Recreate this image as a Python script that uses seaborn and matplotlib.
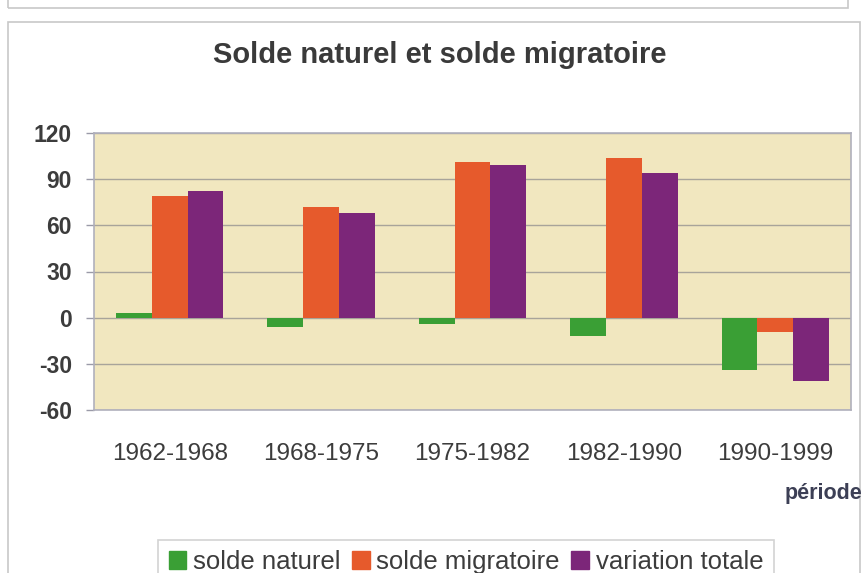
import matplotlib
matplotlib.use("Agg")
import matplotlib.pyplot as plt
import matplotlib.patches as mpatches
import pandas as pd
import seaborn as sns

# Données
periodes = ["1962-1968", "1968-1975", "1975-1982", "1982-1990", "1990-1999"]
solde_naturel = [3, -6, -4, -12, -34]
solde_migratoire = [79, 72, 101, 104, -9]
variation_totale = [82, 68, 99, 94, -41]
series = ["solde naturel", "solde migratoire", "variation totale"]
couleurs = ["#3a9f35", "#e65a2c", "#7c2679"]
yticks = [-60, -30, 0, 30, 60, 90, 120]

df = pd.DataFrame({
    "periode": periodes * 3,
    "valeur": solde_naturel + solde_migratoire + variation_totale,
    "serie": [s for s in series for _ in periodes],
})

sns.set_style("white")
plt.rcParams["font.family"] = ["Liberation Sans", "DejaVu Sans"]

fig = plt.figure(figsize=(8.67, 5.73), dpi=100)
# cadres gris autour du graphique
fig.patches.append(mpatches.Rectangle((8 / 867, -0.05), 852 / 867, 1 - 22 / 573 + 0.05,
                                      transform=fig.transFigure, fill=False,
                                      edgecolor="#c8c8c8", linewidth=1.2))
fig.patches.append(mpatches.Rectangle((8 / 867, 1 - 8 / 573), 840 / 867, 0.05,
                                      transform=fig.transFigure, fill=False,
                                      edgecolor="#c8c8c8", linewidth=1.2))

ax = fig.add_axes([94 / 867, 1 - 410 / 573, 757 / 867, 277 / 573])
sns.barplot(data=df, x="periode", y="valeur", hue="serie", palette=couleurs,
            width=0.71, saturation=1, linewidth=0, ax=ax, legend=False)

ax.set_facecolor("#f1e7bf")
ax.set_ylim(-60, 120)
ax.set_yticks(yticks)
ax.set_yticklabels([str(v) for v in yticks], fontsize=16.5, fontweight="bold", color="#3c3c3c")
ax.tick_params(axis="y", length=6, width=1, color="#9a9aa8", pad=10, direction="out", left=True)
ax.tick_params(axis="x", length=0, pad=24, labelsize=17.5, labelcolor="#3c3c3c")
ax.yaxis.grid(True, color="#a8a49a", linewidth=1)
ax.set_axisbelow(True)
for s in ax.spines.values():
    s.set_color("#b0b0bc")
    s.set_linewidth(1.2)
ax.set_xlabel("")
ax.set_ylabel("")

fig.text(440 / 867, 1 - 55 / 573, "Solde naturel et solde migratoire", ha="center", va="center",
         fontsize=21, fontweight="bold", color="#3a3a3a")
fig.text(862 / 867, 1 - 493 / 573, "période", ha="right", va="center",
         fontsize=15.5, fontweight="bold", color="#3c3f55")

handles = [mpatches.Patch(color=c, label=s) for c, s in zip(couleurs, series)]
leg = fig.legend(handles=handles, loc="upper center", bbox_to_anchor=(466 / 867, 1 - 527 / 573),
                 ncol=3, frameon=True, fontsize=18.5, handlelength=0.7, handleheight=0.7,
                 handletextpad=0.25, columnspacing=0.45, borderpad=0.4, fancybox=False,
                 labelcolor="#3c3c3c")
leg.get_frame().set_edgecolor("#c8c8c8")
leg.get_frame().set_linewidth(1.2)

fig.savefig("out.png", dpi=100)
